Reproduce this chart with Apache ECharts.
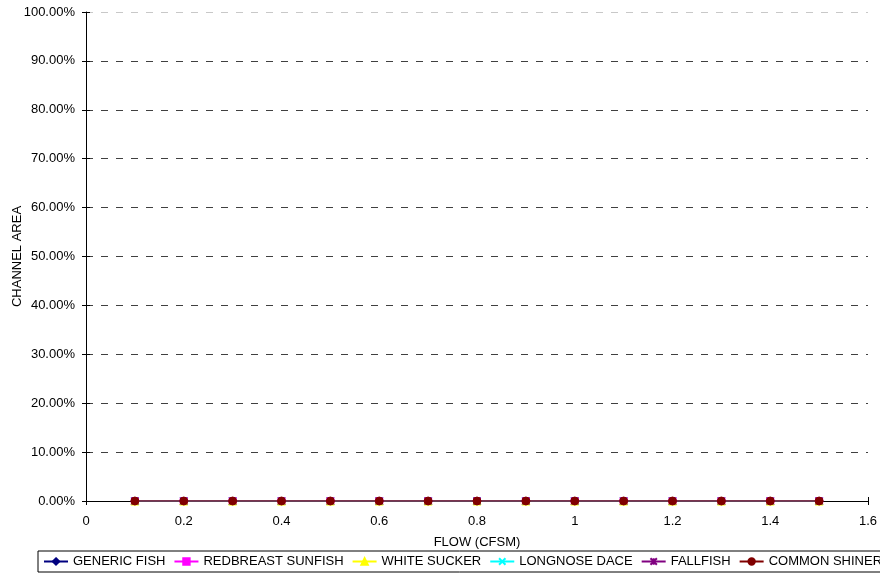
<!DOCTYPE html>
<html>
<head>
<meta charset="utf-8">
<script src="https://cdn.jsdelivr.net/npm/echarts@6/dist/echarts.min.js"></script>
<style>html,body{margin:0;padding:0;background:#fff;}#c{width:880px;height:576px;}</style>
</head>
<body>
<div id="c"></div>
<script>
const flow = [0.1, 0.2, 0.3, 0.4, 0.5, 0.6, 0.7, 0.8, 0.9, 1.0, 1.1, 1.2, 1.3, 1.4, 1.5];
const genericFish       = [0, 0, 0, 0, 0, 0, 0, 0, 0, 0, 0, 0, 0, 0, 0];
const redbreastSunfish  = [0, 0, 0, 0, 0, 0, 0, 0, 0, 0, 0, 0, 0, 0, 0];
const whiteSucker       = [0, 0, 0, 0, 0, 0, 0, 0, 0, 0, 0, 0, 0, 0, 0];
const longnoseDace      = [0, 0, 0, 0, 0, 0, 0, 0, 0, 0, 0, 0, 0, 0, 0];
const fallfish          = [0, 0, 0, 0, 0, 0, 0, 0, 0, 0, 0, 0, 0, 0, 0];
const commonShiner      = [0, 0, 0, 0, 0, 0, 0, 0, 0, 0, 0, 0, 0, 0, 0];
const seriesNames = ['GENERIC FISH', 'REDBREAST SUNFISH', 'WHITE SUCKER', 'LONGNOSE DACE', 'FALLFISH', 'COMMON SHINER'];
const xTitle = 'FLOW (CFSM)';
const yTitle = 'CHANNEL AREA';

const FONT = '"Liberation Sans", Arial, sans-serif';
const seriesData = [genericFish, redbreastSunfish, whiteSucker, longnoseDace, fallfish, commonShiner];
const colors = ['#000080', '#FF00FF', '#FFFF00', '#00FFFF', '#800080', '#800000'];
const symbols = ['diamond', 'rect', 'triangle', 'path://M0,0L10,10M10,0L0,10', 'path://M0,0L10,10M10,0L0,10M5,0L5,10', 'circle'];
const sizes = [8, 7, 8, 7, 7, 8];

const chart = echarts.init(document.getElementById('c'), null, {renderer: 'canvas'});
const splitColors = [];
for (let i = 0; i < 10; i++) splitColors.push('#404040');
splitColors.push('#c8c8c8');

chart.setOption({
  animation: false,
  backgroundColor: '#fff',
  textStyle: {fontFamily: FONT},
  grid: {left: 86, right: 12, top: 12, bottom: 75, containLabel: false, outerBoundsMode: 'none'},
  xAxis: [{
    type: 'value', min: 0, max: 1.6, interval: 0.2,
    name: xTitle, nameLocation: 'middle', nameGap: 35, nameMoveOverlap: false,
    nameTextStyle: {color: '#000', fontSize: 13, fontFamily: FONT},
    axisLine: {show: true, lineStyle: {color: '#000', width: 1}},
    axisTick: {show: true, inside: false, length: 4, lineStyle: {color: '#000'}},
    axisLabel: {color: '#000', fontSize: 13, fontFamily: FONT, margin: 14},
    splitLine: {show: false}
  }, {
    type: 'value', min: 0, max: 1.6, interval: 0.2, position: 'bottom',
    axisLine: {show: false},
    axisTick: {show: true, inside: true, length: 4, lineStyle: {color: '#000'}},
    axisLabel: {show: false}, splitLine: {show: false}
  }],
  yAxis: [{
    type: 'value', min: 0, max: 1, interval: 0.1,
    name: yTitle, nameLocation: 'middle', nameGap: 62, nameMoveOverlap: false,
    nameTextStyle: {color: '#000', fontSize: 13, fontFamily: FONT},
    axisLine: {show: true, lineStyle: {color: '#000', width: 1}},
    axisTick: {show: true, inside: false, length: 4, lineStyle: {color: '#000'}},
    axisLabel: {color: '#000', fontSize: 13, fontFamily: FONT, margin: 11,
      formatter: v => (v * 100).toFixed(2) + '%'},
    splitLine: {show: true, lineStyle: {color: splitColors, type: [7, 8], width: 1}}
  }, {
    type: 'value', min: 0, max: 1, interval: 0.1, position: 'left',
    axisLine: {show: false},
    axisTick: {show: true, inside: true, length: 4, lineStyle: {color: '#000'}},
    axisLabel: {show: false}, splitLine: {show: false}
  }],
  legend: {
    show: true, orient: 'horizontal', left: 38, top: 551, width: 1000,
    padding: [4, 5, 4, 5], itemGap: 8, itemWidth: 24, itemHeight: 8,
    borderColor: '#000', borderWidth: 1, backgroundColor: '#fff',
    textStyle: {color: '#000', fontSize: 13, fontFamily: FONT},
    data: seriesNames
  },
  series: seriesNames.map((n, i) => ({
    name: n, type: 'line', xAxisIndex: 0, yAxisIndex: 0,
    data: flow.map((x, j) => [x, seriesData[i][j]]),
    symbol: symbols[i], symbolSize: sizes[i], showSymbol: true,
    lineStyle: {color: colors[i], width: 1},
    itemStyle: {color: colors[i], borderColor: colors[i], borderWidth: 1},
    emphasis: {disabled: true}
  }))
});
</script>
</body>
</html>
